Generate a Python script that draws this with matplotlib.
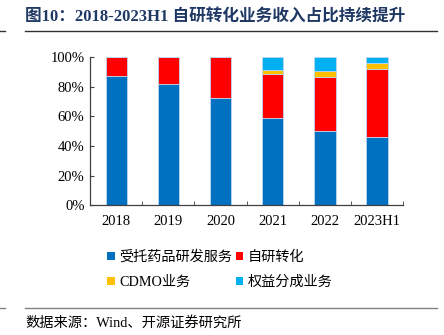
import matplotlib
matplotlib.use("Agg")
from matplotlib import pyplot as plt
from matplotlib.lines import Line2D
from matplotlib.patches import Patch
import numpy as np

plt.rcParams['font.family'] = ['Liberation Serif', 'Noto Sans CJK SC']

years = ['2018', '2019', '2020', '2021', '2022', '2023H1']
series_names = ['受托药品研发服务', '自研转化', 'CDMO业务', '权益分成业务']
cro = [87.2, 81.9, 72.3, 59.1, 50.1, 46.3]
self_dev = [12.8, 18.1, 27.7, 29.3, 36.7, 45.4]
cdmo = [0.0, 0.0, 0.0, 2.7, 3.4, 4.3]
royalty = [0.0, 0.0, 0.0, 8.9, 9.8, 4.0]
colors = ['#0070C0', '#FF0000', '#FFC000', '#00B0F0']

fig = plt.figure(figsize=(4.44, 3.35), dpi=100)
ax = fig.add_axes([0.203, 0.387, 0.705, 0.443])

x = np.arange(len(years))
bottom = np.zeros(len(years))
for vals, c in zip([cro, self_dev, cdmo, royalty], colors):
    ax.bar(x, vals, width=0.41, bottom=bottom, color=c,
           edgecolor='#BDD7EE', linewidth=0.6)
    bottom += np.array(vals)

ax.set_xlim(-0.5, len(years) - 0.5)
ax.set_ylim(0, 100)
ax.set_yticks(np.arange(0, 101, 20))
ax.set_yticklabels([f'{v}%' for v in range(0, 101, 20)], fontsize=10.5)
ax.set_xticks(x)
ax.set_xticklabels(years, fontsize=10.5)
ax.set_xticks(np.arange(0.5, len(years)), minor=True)
ax.tick_params(axis='x', which='major', length=0, pad=7)
ax.tick_params(axis='x', which='minor', direction='in', length=3, color='#404040')
ax.tick_params(axis='y', direction='in', length=3, color='#404040', pad=4)
for s in ['top', 'right']:
    ax.spines[s].set_visible(False)
for s in ['left', 'bottom']:
    ax.spines[s].set_color('#404040')
    ax.spines[s].set_linewidth(0.9)

# column-major fill: reorder so rows read 受托/自研, CDMO/权益
handles = [Patch(facecolor=c, edgecolor='none') for c in colors]
order = [0, 2, 1, 3]
fig.legend([handles[i] for i in order], [series_names[i] for i in order],
           ncol=2, loc='upper left',
           bbox_to_anchor=(0.226, 0.275), frameon=False, fontsize=10.2,
           handlelength=0.5, handleheight=0.5, handletextpad=0.35,
           columnspacing=0.25, labelspacing=0.85, borderpad=0)

fig.text(0.057, 0.947, '图10：2018-2023H1 自研转化业务收入占比持续提升',
         fontsize=12, fontweight='bold', color='#1F3864', va='center')
fig.add_artist(Line2D([0.057, 0.985], [0.907, 0.907], color='#333333', lw=1.0))
fig.add_artist(Line2D([0.0, 0.012], [0.907, 0.907], color='#333333', lw=1.0))
fig.add_artist(Line2D([0.057, 0.985], [0.081, 0.081], color='#808080', lw=1.0))
fig.add_artist(Line2D([0.0, 0.012], [0.081, 0.081], color='#808080', lw=1.0))
fig.text(0.057, 0.036, '数据来源：Wind、开源证券研究所', fontsize=10.3,
         color='#000000', va='center')

fig.savefig('out.png', dpi=100)
